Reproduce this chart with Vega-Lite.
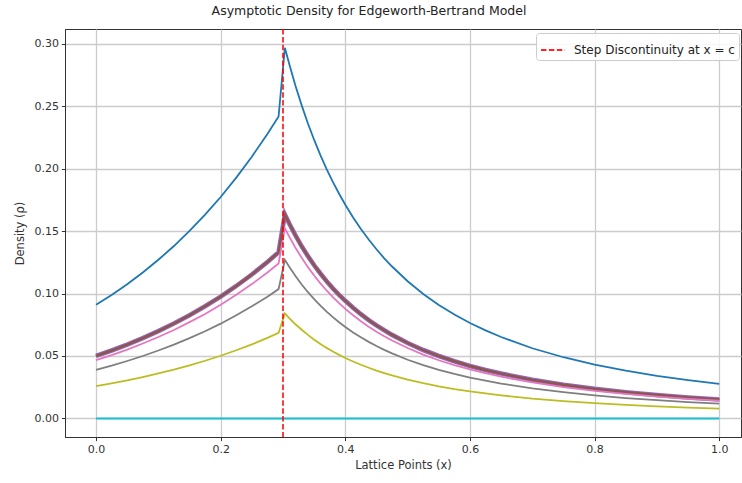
{
  "$schema": "https://vega.github.io/schema/vega-lite/v6.json",
  "width": 676,
  "height": 408,
  "autosize": {"type": "none"},
  "padding": {"left": 65, "top": 29, "right": 1, "bottom": 46},
  "background": "white",
  "title": {"text": "Asymptotic Density for Edgeworth-Bertrand Model", "font": "DejaVu Sans", "fontSize": 12.5, "fontWeight": "normal", "color": "#222222", "anchor": "middle", "offset": 11, "dx": -34},
  "config": {
    "view": {"stroke": "#333333", "strokeWidth": 1},
    "axis": {
      "labelFont": "DejaVu Sans", "titleFont": "DejaVu Sans",
      "labelFontSize": 11, "titleFontSize": 11.5, "titleFontWeight": "normal",
      "labelColor": "#333333", "titleColor": "#333333",
      "tickColor": "#333333", "tickSize": 3.6, "domainColor": "#333333",
      "gridColor": "#cccccc", "gridWidth": 1.3, "labelPadding": 3
    }
  },
  "datasets": {
    "curves": [
      {"x":0,"b":0.0910,"o":0.0501,"g":0.0501,"r":0.0501,"p":0.0501,"br":0.0501,"pk":0.0467,"gy":0.0389,"ol":0.0258,"cy":0},
      {"x":0.025,"b":0.0989,"o":0.0544,"g":0.0544,"r":0.0544,"p":0.0544,"br":0.0544,"pk":0.0507,"gy":0.0423,"ol":0.0280,"cy":0},
      {"x":0.05,"b":0.1075,"o":0.0591,"g":0.0591,"r":0.0591,"p":0.0591,"br":0.0591,"pk":0.0551,"gy":0.0460,"ol":0.0304,"cy":0},
      {"x":0.075,"b":0.1169,"o":0.0643,"g":0.0643,"r":0.0643,"p":0.0643,"br":0.0643,"pk":0.0600,"gy":0.0500,"ol":0.0331,"cy":0},
      {"x":0.1,"b":0.1271,"o":0.0699,"g":0.0699,"r":0.0699,"p":0.0699,"br":0.0699,"pk":0.0652,"gy":0.0544,"ol":0.0360,"cy":0},
      {"x":0.125,"b":0.1381,"o":0.0760,"g":0.0760,"r":0.0760,"p":0.0760,"br":0.0760,"pk":0.0708,"gy":0.0591,"ol":0.0391,"cy":0},
      {"x":0.15,"b":0.1502,"o":0.0826,"g":0.0826,"r":0.0826,"p":0.0826,"br":0.0826,"pk":0.0771,"gy":0.0643,"ol":0.0425,"cy":0},
      {"x":0.175,"b":0.1632,"o":0.0898,"g":0.0898,"r":0.0898,"p":0.0898,"br":0.0898,"pk":0.0837,"gy":0.0698,"ol":0.0462,"cy":0},
      {"x":0.2,"b":0.1774,"o":0.0976,"g":0.0976,"r":0.0976,"p":0.0976,"br":0.0976,"pk":0.0910,"gy":0.0759,"ol":0.0502,"cy":0},
      {"x":0.225,"b":0.1929,"o":0.1061,"g":0.1061,"r":0.1061,"p":0.1061,"br":0.1061,"pk":0.0990,"gy":0.0826,"ol":0.0546,"cy":0},
      {"x":0.25,"b":0.2097,"o":0.1153,"g":0.1153,"r":0.1153,"p":0.1153,"br":0.1153,"pk":0.1076,"gy":0.0898,"ol":0.0593,"cy":0},
      {"x":0.275,"b":0.2279,"o":0.1253,"g":0.1253,"r":0.1253,"p":0.1253,"br":0.1253,"pk":0.1169,"gy":0.0975,"ol":0.0645,"cy":0},
      {"x":0.2929,"b":0.2420,"o":0.1331,"g":0.1331,"r":0.1331,"p":0.1331,"br":0.1331,"pk":0.1241,"gy":0.1036,"ol":0.0685,"cy":0},
      {"x":0.303,"b":0.2970,"o":0.1634,"g":0.1634,"r":0.1634,"p":0.1634,"br":0.1634,"pk":0.1524,"gy":0.1271,"ol":0.0841,"cy":0},
      {"x":0.31,"b":0.2839,"o":0.1561,"g":0.1561,"r":0.1561,"p":0.1561,"br":0.1561,"pk":0.1456,"gy":0.1215,"ol":0.0803,"cy":0},
      {"x":0.32,"b":0.2665,"o":0.1466,"g":0.1466,"r":0.1466,"p":0.1466,"br":0.1466,"pk":0.1367,"gy":0.1141,"ol":0.0754,"cy":0},
      {"x":0.33,"b":0.2508,"o":0.1379,"g":0.1379,"r":0.1379,"p":0.1379,"br":0.1379,"pk":0.1287,"gy":0.1073,"ol":0.0710,"cy":0},
      {"x":0.34,"b":0.2363,"o":0.1300,"g":0.1300,"r":0.1300,"p":0.1300,"br":0.1300,"pk":0.1212,"gy":0.1011,"ol":0.0669,"cy":0},
      {"x":0.35,"b":0.2231,"o":0.1227,"g":0.1227,"r":0.1227,"p":0.1227,"br":0.1227,"pk":0.1145,"gy":0.0955,"ol":0.0631,"cy":0},
      {"x":0.36,"b":0.2110,"o":0.1161,"g":0.1161,"r":0.1161,"p":0.1161,"br":0.1161,"pk":0.1082,"gy":0.0903,"ol":0.0597,"cy":0},
      {"x":0.37,"b":0.1998,"o":0.1099,"g":0.1099,"r":0.1099,"p":0.1099,"br":0.1099,"pk":0.1025,"gy":0.0855,"ol":0.0565,"cy":0},
      {"x":0.38,"b":0.1895,"o":0.1042,"g":0.1042,"r":0.1042,"p":0.1042,"br":0.1042,"pk":0.0972,"gy":0.0811,"ol":0.0536,"cy":0},
      {"x":0.39,"b":0.1800,"o":0.0990,"g":0.0990,"r":0.0990,"p":0.0990,"br":0.0990,"pk":0.0923,"gy":0.0770,"ol":0.0509,"cy":0},
      {"x":0.4,"b":0.1712,"o":0.0942,"g":0.0942,"r":0.0942,"p":0.0942,"br":0.0942,"pk":0.0878,"gy":0.0733,"ol":0.0484,"cy":0},
      {"x":0.4125,"b":0.1610,"o":0.0886,"g":0.0886,"r":0.0886,"p":0.0886,"br":0.0886,"pk":0.0826,"gy":0.0689,"ol":0.0456,"cy":0},
      {"x":0.425,"b":0.1518,"o":0.0835,"g":0.0835,"r":0.0835,"p":0.0835,"br":0.0835,"pk":0.0779,"gy":0.0650,"ol":0.0430,"cy":0},
      {"x":0.4375,"b":0.1433,"o":0.0788,"g":0.0788,"r":0.0788,"p":0.0788,"br":0.0788,"pk":0.0735,"gy":0.0613,"ol":0.0406,"cy":0},
      {"x":0.45,"b":0.1355,"o":0.0745,"g":0.0745,"r":0.0745,"p":0.0745,"br":0.0745,"pk":0.0695,"gy":0.0580,"ol":0.0383,"cy":0},
      {"x":0.4625,"b":0.1283,"o":0.0706,"g":0.0706,"r":0.0706,"p":0.0706,"br":0.0706,"pk":0.0658,"gy":0.0549,"ol":0.0363,"cy":0},
      {"x":0.475,"b":0.1217,"o":0.0669,"g":0.0669,"r":0.0669,"p":0.0669,"br":0.0669,"pk":0.0624,"gy":0.0521,"ol":0.0344,"cy":0},
      {"x":0.5,"b":0.1099,"o":0.0604,"g":0.0604,"r":0.0604,"p":0.0604,"br":0.0604,"pk":0.0564,"gy":0.0470,"ol":0.0311,"cy":0},
      {"x":0.525,"b":0.0997,"o":0.0548,"g":0.0548,"r":0.0548,"p":0.0548,"br":0.0548,"pk":0.0511,"gy":0.0427,"ol":0.0282,"cy":0},
      {"x":0.55,"b":0.0909,"o":0.0500,"g":0.0500,"r":0.0500,"p":0.0500,"br":0.0500,"pk":0.0466,"gy":0.0389,"ol":0.0257,"cy":0},
      {"x":0.575,"b":0.0832,"o":0.0458,"g":0.0458,"r":0.0458,"p":0.0458,"br":0.0458,"pk":0.0427,"gy":0.0356,"ol":0.0235,"cy":0},
      {"x":0.6,"b":0.0764,"o":0.0420,"g":0.0420,"r":0.0420,"p":0.0420,"br":0.0420,"pk":0.0392,"gy":0.0327,"ol":0.0216,"cy":0},
      {"x":0.625,"b":0.0705,"o":0.0388,"g":0.0388,"r":0.0388,"p":0.0388,"br":0.0388,"pk":0.0362,"gy":0.0302,"ol":0.0200,"cy":0},
      {"x":0.65,"b":0.0652,"o":0.0359,"g":0.0359,"r":0.0359,"p":0.0359,"br":0.0359,"pk":0.0334,"gy":0.0279,"ol":0.0185,"cy":0},
      {"x":0.7,"b":0.0562,"o":0.0309,"g":0.0309,"r":0.0309,"p":0.0309,"br":0.0309,"pk":0.0288,"gy":0.0241,"ol":0.0159,"cy":0},
      {"x":0.75,"b":0.0490,"o":0.0270,"g":0.0270,"r":0.0270,"p":0.0270,"br":0.0270,"pk":0.0251,"gy":0.0210,"ol":0.0139,"cy":0},
      {"x":0.8,"b":0.0431,"o":0.0237,"g":0.0237,"r":0.0237,"p":0.0237,"br":0.0237,"pk":0.0221,"gy":0.0184,"ol":0.0122,"cy":0},
      {"x":0.85,"b":0.0382,"o":0.0210,"g":0.0210,"r":0.0210,"p":0.0210,"br":0.0210,"pk":0.0196,"gy":0.0163,"ol":0.0108,"cy":0},
      {"x":0.9,"b":0.0341,"o":0.0188,"g":0.0188,"r":0.0188,"p":0.0188,"br":0.0188,"pk":0.0175,"gy":0.0146,"ol":0.0097,"cy":0},
      {"x":0.95,"b":0.0306,"o":0.0168,"g":0.0168,"r":0.0168,"p":0.0168,"br":0.0168,"pk":0.0157,"gy":0.0131,"ol":0.0087,"cy":0},
      {"x":1.0,"b":0.0276,"o":0.0152,"g":0.0152,"r":0.0152,"p":0.0152,"br":0.0152,"pk":0.0142,"gy":0.0118,"ol":0.0078,"cy":0}
    ],
    "step": [{"c": 0.3, "label": "Step Discontinuity at x = c"}]
  },
  "layer": [
    {
      "data": {"name": "curves"},
      "transform": [{"fold": ["b","o","g","r","p","br","pk","gy","ol","cy"], "as": ["key","value"]}],
      "mark": {"type": "line", "clip": true},
      "encoding": {
        "x": {"field": "x", "type": "quantitative", "scale": {"domain": [-0.0498, 1.0349], "nice": false, "zero": false},
              "axis": {"values": [0,0.2,0.4,0.6,0.8,1.0], "format": ".1f", "title": "Lattice Points (x)", "titlePadding": 5}},
        "y": {"field": "value", "type": "quantitative", "scale": {"domain": [-0.0149, 0.312], "nice": false, "zero": false},
              "axis": {"values": [0,0.05,0.1,0.15,0.2,0.25,0.3], "format": ".2f", "title": "Density (ρ)", "titlePadding": 8}},
        "color": {"field": "key", "type": "nominal", "legend": null,
                  "scale": {"domain": ["b","o","g","r","p","br","pk","gy","ol","cy"],
                            "range": ["#1f77b4","#ff7f0e","#2ca02c","#d62728","#9467bd","#8c564b","#e377c2","#7f7f7f","#bcbd22","#17becf"]}},
        "strokeWidth": {"field": "key", "type": "nominal", "legend": null,
                  "scale": {"type": "ordinal", "domain": ["b","o","g","r","p","br","pk","gy","ol","cy"],
                            "range": [1.8,1.8,1.8,1.8,4.6,2.4,1.8,1.8,1.8,2]}}
      }
    },
    {
      "data": {"name": "step"},
      "mark": {"type": "rule", "color": "#ff0000", "opacity": 0.85, "strokeWidth": 1.8},
      "encoding": {
        "x": {"field": "c", "type": "quantitative"},
        "strokeDash": {"field": "label", "type": "nominal",
          "scale": {"range": [[5.5, 2.4]]},
          "legend": {"orient": "none", "legendX": 471, "legendY": 4, "title": null,
                     "fillColor": "rgba(255,255,255,0.85)", "strokeColor": "#cccccc", "cornerRadius": 3, "padding": 4,
                     "symbolType": "stroke", "symbolStrokeColor": "#ff0000", "symbolStrokeWidth": 1.8, "symbolSize": 576, "symbolOpacity": 0.85,
                     "labelFont": "DejaVu Sans", "labelFontSize": 12, "labelLimit": 400, "labelColor": "#222222", "labelOffset": 8}
        }
      }
    }
  ]
}
